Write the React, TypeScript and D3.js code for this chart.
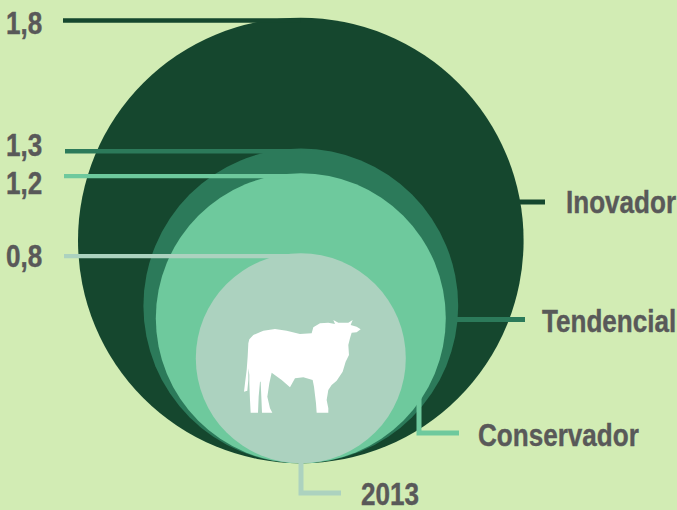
import * as React from 'react'
import { scaleLinear, line } from 'd3'

const scenarios = ['Inovador', 'Tendencial', 'Conservador', '2013']
const values = [1.8, 1.3, 1.2, 0.8]
const valueLabels = ['1,8', '1,3', '1,2', '0,8']
const colors = ['#15472e', '#2c7a5a', '#6ec99d', '#acd2bf']

const width = 677
const height = 510
const cx = 300.8
const bottom = 463.3

// the circles are not strictly proportional in the original, so the scale has bends
const radius = scaleLinear().domain([0.8, 1.2, 1.3, 1.8]).range([105, 145, 157.4, 222.8])

const font = '"Liberation Sans", Arial, sans-serif'
const fontSize = 32
const narrow = 0.815 // the original uses a narrow bold face

const linePath = line<[number, number]>()

const cow =
  'M85 130 L88 118 L100 105 L130 92 L165 87 L200 92 L240 102 L275 100 L280 82 L300 70 L325 68 L345 72 L340 60 L355 68 L385 68 L398 60 L392 75 L410 80 L422 88 L410 97 L395 98 L390 115 L385 135 L387 165 L377 185 L368 215 L350 242 L335 255 L325 270 L320 300 L325 325 L325 338 L290 338 L288 310 L282 260 L278 240 L250 232 L225 235 L210 262 L185 240 L155 218 L148 250 L142 290 L150 325 L157 338 L126 338 L124 290 L122 245 L120 245 L116 290 L114 338 L92 338 L90 300 L88 250 L88 225 L85 205 L85 240 L82 272 L72 275 L75 250 L80 210 L83 170 Z'

// leader lines on the right side, one per scenario
const seriesLeaders: [number, number][][] = [
  [[519, 202], [545, 202]],
  [[457, 319.5], [525, 319.5]],
  [[419, 396], [419, 433], [459, 433]],
  [[301, 463], [301, 493], [341, 493]],
]
const seriesLabelPos: [number, number][] = [
  [566, 213],
  [542, 332],
  [478, 446],
  [361, 505],
]
const valueLabelY = [34, 156, 194, 267]
const leaderStartX = [63, 65, 64, 64]

function App() {
  return (
    <svg
      width={width}
      height={height}
      style={{ position: 'absolute', left: 0, top: 0, background: '#d2ecb4' }}
    >
      {values.map((v, i) => (
        <circle key={i} cx={cx} cy={bottom - radius(v)} r={radius(v)} fill={colors[i]} />
      ))}
      {values.map((v, i) => {
        const y = bottom - 2 * radius(v) + 2.8
        return (
          <g key={i}>
            <path
              d={linePath([[leaderStartX[i], y], [cx, y]]) ?? ''}
              stroke={colors[i]}
              strokeWidth={4.4}
              fill="none"
            />
            <text
              transform={`translate(6,${valueLabelY[i]}) scale(${narrow},1)`}
              fontFamily={font}
              fontWeight="bold"
              fontSize={fontSize}
              fill="#595959"
              stroke="#595959"
              strokeWidth={0.4}
            >
              {valueLabels[i]}
            </text>
          </g>
        )
      })}
      {scenarios.map((s, i) => (
        <g key={s}>
          <path d={linePath(seriesLeaders[i]) ?? ''} stroke={colors[i]} strokeWidth={5} fill="none" />
          <text
            transform={`translate(${seriesLabelPos[i][0]},${seriesLabelPos[i][1]}) scale(${narrow},1)`}
            fontFamily={font}
            fontWeight="bold"
            fontSize={fontSize}
            fill="#595959"
            stroke="#595959"
            strokeWidth={0.4}
          >
            {s}
          </text>
        </g>
      ))}
      <path d={cow} transform="translate(220,300) scale(0.3333)" fill="#fff" />
    </svg>
  )
}

export default App
